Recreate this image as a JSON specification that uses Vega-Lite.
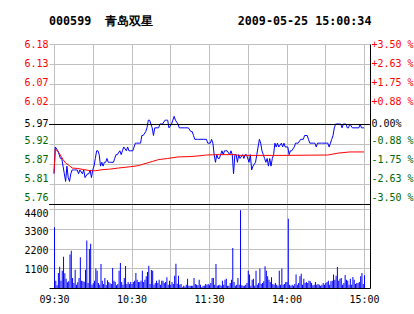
{
  "$schema": "https://vega.github.io/schema/vega-lite/v6.json",
  "width": 321,
  "height": 244,
  "autosize": {"type": "none"},
  "padding": {"left": 49, "top": 44, "right": 44, "bottom": 26},
  "background": "#ffffff",
  "title": {
    "text": "000599\u00a0\u00a0青岛双星\u00a0\u00a0\u00a0\u00a0\u00a0\u00a0\u00a0\u00a0\u00a0\u00a0\u00a0\u00a02009-05-25\u00a015:00:34",
    "anchor": "start",
    "frame": "group",
    "font": "DejaVu Sans Mono",
    "fontSize": 11.7,
    "fontWeight": "bold",
    "color": "#000000",
    "baseline": "alphabetic",
    "offset": 2
  },
  "config": {
    "view": {"stroke": null},
    "axis": {
      "labelFont": "DejaVu Sans Mono",
      "labelFontSize": 10,
      "labelColor": "#000000",
      "gridColor": "#c0c0c0",
      "gridOpacity": 1,
      "ticks": false,
      "domain": false,
      "title": null,
      "labelOverlap": false,
      "labelFlush": false
    }
  },
  "datasets": {
    "trade": [
      {"minute":0,"price":5.84},{"minute":1,"price":5.91},{"minute":3,"price":5.90},{"minute":4,"price":5.89},{"minute":5,"price":5.88},{"minute":6,"price":5.88},{"minute":7,"price":5.86},{"minute":8,"price":5.84},{"minute":9,"price":5.82},{"minute":10,"price":5.86},{"minute":11,"price":5.83},{"minute":12,"price":5.82},{"minute":13,"price":5.84},{"minute":14,"price":5.85},{"minute":15,"price":5.85},{"minute":16,"price":5.85},{"minute":17,"price":5.85},{"minute":18,"price":5.85},{"minute":19,"price":5.84},{"minute":20,"price":5.85},{"minute":22,"price":5.84},{"minute":23,"price":5.85},{"minute":24,"price":5.83},{"minute":26,"price":5.84},{"minute":27,"price":5.84},{"minute":28,"price":5.85},{"minute":29,"price":5.83},{"minute":30,"price":5.85},{"minute":31,"price":5.86},{"minute":32,"price":5.88},{"minute":33,"price":5.90},{"minute":34,"price":5.90},{"minute":35,"price":5.89},{"minute":36,"price":5.86},{"minute":37,"price":5.87},{"minute":38,"price":5.86},{"minute":39,"price":5.87},{"minute":40,"price":5.87},{"minute":41,"price":5.88},{"minute":42,"price":5.87},{"minute":43,"price":5.87},{"minute":44,"price":5.87},{"minute":46,"price":5.87},{"minute":47,"price":5.88},{"minute":48,"price":5.89},{"minute":49,"price":5.89},{"minute":51,"price":5.90},{"minute":52,"price":5.89},{"minute":53,"price":5.90},{"minute":54,"price":5.91},{"minute":56,"price":5.90},{"minute":57,"price":5.91},{"minute":58,"price":5.90},{"minute":59,"price":5.90},{"minute":61,"price":5.90},{"minute":62,"price":5.91},{"minute":63,"price":5.92},{"minute":64,"price":5.92},{"minute":66,"price":5.92},{"minute":67,"price":5.92},{"minute":68,"price":5.94},{"minute":69,"price":5.94},{"minute":71,"price":5.95},{"minute":72,"price":5.96},{"minute":73,"price":5.98},{"minute":74,"price":5.98},{"minute":75,"price":5.97},{"minute":76,"price":5.96},{"minute":77,"price":5.94},{"minute":78,"price":5.96},{"minute":79,"price":5.96},{"minute":81,"price":5.96},{"minute":82,"price":5.97},{"minute":83,"price":5.97},{"minute":84,"price":5.97},{"minute":86,"price":5.98},{"minute":87,"price":5.98},{"minute":88,"price":5.98},{"minute":89,"price":5.96},{"minute":91,"price":5.97},{"minute":92,"price":5.98},{"minute":93,"price":5.99},{"minute":94,"price":5.98},{"minute":96,"price":5.97},{"minute":97,"price":5.96},{"minute":98,"price":5.96},{"minute":101,"price":5.96},{"minute":103,"price":5.96},{"minute":104,"price":5.96},{"minute":106,"price":5.95},{"minute":107,"price":5.95},{"minute":108,"price":5.94},{"minute":109,"price":5.93},{"minute":111,"price":5.93},{"minute":112,"price":5.93},{"minute":113,"price":5.93},{"minute":116,"price":5.93},{"minute":118,"price":5.93},{"minute":119,"price":5.92},{"minute":121,"price":5.92},{"minute":122,"price":5.93},{"minute":123,"price":5.92},{"minute":124,"price":5.89},{"minute":125,"price":5.87},{"minute":126,"price":5.89},{"minute":127,"price":5.88},{"minute":128,"price":5.88},{"minute":129,"price":5.89},{"minute":130,"price":5.90},{"minute":131,"price":5.89},{"minute":132,"price":5.90},{"minute":133,"price":5.90},{"minute":134,"price":5.90},{"minute":136,"price":5.89},{"minute":137,"price":5.90},{"minute":138,"price":5.89},{"minute":139,"price":5.84},{"minute":140,"price":5.89},{"minute":141,"price":5.89},{"minute":142,"price":5.87},{"minute":143,"price":5.89},{"minute":144,"price":5.88},{"minute":146,"price":5.89},{"minute":147,"price":5.88},{"minute":148,"price":5.89},{"minute":149,"price":5.89},{"minute":151,"price":5.87},{"minute":152,"price":5.89},{"minute":153,"price":5.85},{"minute":154,"price":5.86},{"minute":156,"price":5.87},{"minute":157,"price":5.89},{"minute":158,"price":5.91},{"minute":159,"price":5.93},{"minute":160,"price":5.92},{"minute":161,"price":5.90},{"minute":162,"price":5.89},{"minute":163,"price":5.88},{"minute":164,"price":5.87},{"minute":165,"price":5.88},{"minute":166,"price":5.86},{"minute":167,"price":5.88},{"minute":168,"price":5.86},{"minute":169,"price":5.88},{"minute":170,"price":5.89},{"minute":171,"price":5.92},{"minute":172,"price":5.91},{"minute":173,"price":5.92},{"minute":174,"price":5.91},{"minute":176,"price":5.92},{"minute":177,"price":5.91},{"minute":178,"price":5.92},{"minute":179,"price":5.91},{"minute":181,"price":5.91},{"minute":182,"price":5.89},{"minute":183,"price":5.90},{"minute":184,"price":5.90},{"minute":186,"price":5.91},{"minute":187,"price":5.92},{"minute":188,"price":5.92},{"minute":189,"price":5.92},{"minute":191,"price":5.93},{"minute":192,"price":5.93},{"minute":193,"price":5.93},{"minute":194,"price":5.94},{"minute":196,"price":5.94},{"minute":197,"price":5.93},{"minute":198,"price":5.92},{"minute":199,"price":5.92},{"minute":201,"price":5.92},{"minute":202,"price":5.92},{"minute":203,"price":5.91},{"minute":204,"price":5.92},{"minute":206,"price":5.92},{"minute":207,"price":5.92},{"minute":208,"price":5.92},{"minute":209,"price":5.92},{"minute":211,"price":5.92},{"minute":212,"price":5.92},{"minute":213,"price":5.91},{"minute":214,"price":5.92},{"minute":215,"price":5.93},{"minute":216,"price":5.94},{"minute":217,"price":5.96},{"minute":218,"price":5.97},{"minute":219,"price":5.97},{"minute":221,"price":5.97},{"minute":222,"price":5.97},{"minute":223,"price":5.96},{"minute":224,"price":5.97},{"minute":226,"price":5.97},{"minute":227,"price":5.96},{"minute":228,"price":5.96},{"minute":229,"price":5.97},{"minute":231,"price":5.96},{"minute":233,"price":5.96},{"minute":236,"price":5.96},{"minute":237,"price":5.97},{"minute":238,"price":5.96},{"minute":239,"price":5.96},{"minute":240,"price":5.96}
    ],
    "average": [
      {"minute":0,"avg":5.843},{"minute":1,"avg":5.905},{"minute":4,"avg":5.894},{"minute":7,"avg":5.877},{"minute":9,"avg":5.868},{"minute":12,"avg":5.861},{"minute":14,"avg":5.855},{"minute":18,"avg":5.854},{"minute":23,"avg":5.851},{"minute":28,"avg":5.848},{"minute":32,"avg":5.848},{"minute":38,"avg":5.851},{"minute":43,"avg":5.852},{"minute":50,"avg":5.855},{"minute":58,"avg":5.858},{"minute":65,"avg":5.861},{"minute":72,"avg":5.868},{"minute":76,"avg":5.872},{"minute":81,"avg":5.877},{"minute":88,"avg":5.880},{"minute":96,"avg":5.884},{"minute":106,"avg":5.885},{"minute":113,"avg":5.887},{"minute":118,"avg":5.889},{"minute":128,"avg":5.890},{"minute":140,"avg":5.890},{"minute":143,"avg":5.888},{"minute":178,"avg":5.888},{"minute":212,"avg":5.889},{"minute":220,"avg":5.894},{"minute":229,"avg":5.897},{"minute":240,"avg":5.897}
    ],
    "volume": [
      {"minute":0,"vol":3380},{"minute":1,"vol":410},{"minute":2,"vol":150},{"minute":3,"vol":835},{"minute":4,"vol":1190},{"minute":5,"vol":410},{"minute":6,"vol":965},{"minute":7,"vol":1745},{"minute":8,"vol":815},{"minute":9,"vol":520},{"minute":10,"vol":315},{"minute":11,"vol":370},{"minute":12,"vol":1860},{"minute":13,"vol":2080},{"minute":14,"vol":557},{"minute":15,"vol":280},{"minute":16,"vol":1020},{"minute":17,"vol":185},{"minute":18,"vol":315},{"minute":19,"vol":557},{"minute":20,"vol":1710},{"minute":21,"vol":410},{"minute":22,"vol":370},{"minute":23,"vol":350},{"minute":24,"vol":1020},{"minute":25,"vol":2640},{"minute":26,"vol":280},{"minute":27,"vol":2170},{"minute":28,"vol":2470},{"minute":29,"vol":185},{"minute":30,"vol":260},{"minute":31,"vol":410},{"minute":32,"vol":1080},{"minute":33,"vol":965},{"minute":34,"vol":280},{"minute":35,"vol":185},{"minute":36,"vol":1340},{"minute":37,"vol":410},{"minute":38,"vol":220},{"minute":39,"vol":557},{"minute":40,"vol":170},{"minute":41,"vol":430},{"minute":42,"vol":335},{"minute":43,"vol":260},{"minute":44,"vol":220},{"minute":45,"vol":1115},{"minute":46,"vol":410},{"minute":47,"vol":335},{"minute":48,"vol":150},{"minute":49,"vol":220},{"minute":50,"vol":965},{"minute":51,"vol":1390},{"minute":52,"vol":335},{"minute":53,"vol":185},{"minute":54,"vol":557},{"minute":55,"vol":1225},{"minute":56,"vol":220},{"minute":57,"vol":335},{"minute":58,"vol":220},{"minute":59,"vol":335},{"minute":60,"vol":220},
      {"minute":61,"vol":335},{"minute":62,"vol":410},{"minute":63,"vol":835},{"minute":64,"vol":465},{"minute":65,"vol":335},{"minute":66,"vol":335},{"minute":67,"vol":410},{"minute":68,"vol":965},{"minute":69,"vol":335},{"minute":70,"vol":465},{"minute":71,"vol":650},{"minute":72,"vol":890},{"minute":73,"vol":1245},{"minute":74,"vol":220},{"minute":75,"vol":1000},{"minute":76,"vol":965},{"minute":77,"vol":185},{"minute":78,"vol":280},{"minute":79,"vol":410},{"minute":80,"vol":280},{"minute":81,"vol":465},{"minute":82,"vol":185},{"minute":83,"vol":410},{"minute":84,"vol":410},{"minute":85,"vol":280},{"minute":86,"vol":335},{"minute":87,"vol":595},{"minute":88,"vol":185},{"minute":89,"vol":410},{"minute":90,"vol":185},{"minute":91,"vol":335},{"minute":92,"vol":220},{"minute":93,"vol":687},{"minute":94,"vol":1355},{"minute":95,"vol":240},{"minute":96,"vol":687},{"minute":97,"vol":185},{"minute":98,"vol":220},{"minute":99,"vol":40},{"minute":100,"vol":130},{"minute":101,"vol":90},{"minute":102,"vol":185},{"minute":103,"vol":520},{"minute":104,"vol":130},{"minute":105,"vol":130},{"minute":106,"vol":130},{"minute":107,"vol":130},{"minute":108,"vol":557},{"minute":109,"vol":220},{"minute":110,"vol":185},{"minute":111,"vol":150},{"minute":112,"vol":465},{"minute":113,"vol":185},{"minute":114,"vol":40},{"minute":115,"vol":130},{"minute":116,"vol":130},{"minute":117,"vol":220},{"minute":118,"vol":185},{"minute":119,"vol":220},{"minute":120,"vol":150},
      {"minute":121,"vol":280},{"minute":122,"vol":557},{"minute":123,"vol":557},{"minute":124,"vol":185},{"minute":125,"vol":1340},{"minute":126,"vol":130},{"minute":127,"vol":150},{"minute":128,"vol":185},{"minute":129,"vol":130},{"minute":130,"vol":410},{"minute":131,"vol":185},{"minute":132,"vol":465},{"minute":133,"vol":520},{"minute":134,"vol":130},{"minute":135,"vol":130},{"minute":136,"vol":280},{"minute":137,"vol":465},{"minute":138,"vol":2230},{"minute":139,"vol":335},{"minute":140,"vol":130},{"minute":141,"vol":185},{"minute":142,"vol":557},{"minute":143,"vol":185},{"minute":144,"vol":4330},{"minute":145,"vol":150},{"minute":146,"vol":130},{"minute":147,"vol":130},{"minute":148,"vol":185},{"minute":149,"vol":280},{"minute":150,"vol":965},{"minute":151,"vol":745},{"minute":152,"vol":130},{"minute":153,"vol":465},{"minute":154,"vol":520},{"minute":155,"vol":130},{"minute":156,"vol":965},{"minute":157,"vol":185},{"minute":158,"vol":280},{"minute":159,"vol":1080},{"minute":160,"vol":220},{"minute":161,"vol":280},{"minute":162,"vol":370},{"minute":163,"vol":1210},{"minute":164,"vol":965},{"minute":165,"vol":650},{"minute":166,"vol":465},{"minute":167,"vol":335},{"minute":168,"vol":595},{"minute":169,"vol":220},{"minute":170,"vol":185},{"minute":171,"vol":280},{"minute":172,"vol":185},{"minute":173,"vol":130},{"minute":174,"vol":965},{"minute":175,"vol":185},{"minute":176,"vol":1080},{"minute":177,"vol":185},{"minute":178,"vol":220},{"minute":179,"vol":335},
      {"minute":180,"vol":335},{"minute":181,"vol":3860},{"minute":182,"vol":185},{"minute":183,"vol":130},{"minute":184,"vol":185},{"minute":185,"vol":130},{"minute":186,"vol":220},{"minute":187,"vol":745},{"minute":188,"vol":185},{"minute":189,"vol":280},{"minute":190,"vol":650},{"minute":191,"vol":800},{"minute":192,"vol":185},{"minute":193,"vol":520},{"minute":194,"vol":280},{"minute":195,"vol":335},{"minute":196,"vol":280},{"minute":197,"vol":410},{"minute":198,"vol":370},{"minute":199,"vol":280},{"minute":200,"vol":150},{"minute":201,"vol":185},{"minute":202,"vol":335},{"minute":203,"vol":185},{"minute":204,"vol":220},{"minute":205,"vol":185},{"minute":206,"vol":130},{"minute":207,"vol":185},{"minute":208,"vol":280},{"minute":209,"vol":185},{"minute":210,"vol":280},{"minute":211,"vol":335},{"minute":212,"vol":410},{"minute":213,"vol":185},{"minute":214,"vol":370},{"minute":215,"vol":410},{"minute":216,"vol":745},{"minute":217,"vol":465},{"minute":218,"vol":687},{"minute":219,"vol":1170},{"minute":220,"vol":410},{"minute":221,"vol":520},{"minute":222,"vol":557},{"minute":223,"vol":185},{"minute":224,"vol":280},{"minute":225,"vol":725},{"minute":226,"vol":465},{"minute":227,"vol":410},{"minute":228,"vol":185},{"minute":229,"vol":520},{"minute":230,"vol":185},{"minute":231,"vol":612},{"minute":232,"vol":465},{"minute":233,"vol":220},{"minute":234,"vol":280},{"minute":235,"vol":280},{"minute":236,"vol":335},{"minute":237,"vol":650},{"minute":238,"vol":835},{"minute":239,"vol":220},{"minute":240,"vol":705}
    ],
    "refs": [{"level": 5.97}, {"level": 5.76105}]
  },
  "layer": [
    {
      "data": {"name": "volume"},
      "mark": {"type": "bar", "orient": "vertical", "color": "#0000ff", "size": 1, "xOffset": 0.5},
      "encoding": {
        "x": {
          "field": "minute", "type": "quantitative",
          "scale": {"domain": [0, 240.75], "nice": false, "zero": false},
          "axis": {
            "values": [0, 30, 60, 90, 120, 150, 180, 210, 240],
            "grid": true,
            "domain": true,
            "domainColor": "#000000",
            "labelPadding": 6,
            "labelOverlap": false,
            "labelFlush": false,
            "labelExpr": "datum.value==0?'09:30':datum.value==60?'10:30':datum.value==120?'11:30':datum.value==180?'14:00':datum.value==240?'15:00':''"
          }
        },
        "y": {
          "field": "vol", "type": "quantitative",
          "scale": {"domain": [0, 13590], "nice": false},
          "axis": {
            "orient": "left",
            "values": [1100, 2200, 3300, 4400],
            "grid": true,
            "labelPadding": 1,
            "labelOverlap": false,
            "labelExpr": "format(datum.value, 'd')",
            "labelOffset": {"condition": [{"test": "datum.value > 4000", "value": 4}, {"test": "datum.value > 3000", "value": 3}, {"test": "datum.value > 2000", "value": 2}], "value": 1.5}
          }
        }
      }
    },
    {
      "layer": [
        {
          "data": {"name": "trade"},
          "mark": {"type": "line", "color": "#0000ff", "strokeWidth": 1},
          "encoding": {
            "x": {
              "field": "minute", "type": "quantitative",
              "scale": {"domain": [0, 240.75], "nice": false, "zero": false},
              "axis": {
                "values": [0, 30, 60, 90, 120, 150, 180, 210, 240],
                "grid": true,
                "domain": true,
                "domainColor": "#000000",
                "labelPadding": 6,
                "labelOverlap": false,
                "labelFlush": false,
                "labelExpr": "datum.value==0?'09:30':datum.value==60?'10:30':datum.value==120?'11:30':datum.value==180?'14:00':datum.value==240?'15:00':''"
              }
            },
            "y": {
              "field": "price", "type": "quantitative",
              "scale": {"domain": [5.541652, 6.17895], "nice": false, "zero": false},
              "axis": {
                "orient": "left",
                "values": [5.76105, 5.8132875, 5.865525, 5.9177625, 5.97, 6.0222375, 6.074475, 6.1267125, 6.17895],
                "grid": true,
                "labelPadding": 1,
                "labelOverlap": false,
                "labelExpr": "format(datum.value, '.2f')",
                "labelColor": {"condition": [{"test": "datum.value > 5.975", "value": "#ff0000"}, {"test": "datum.value < 5.965", "value": "#006600"}], "value": "#000000"},
                "labelOffset": {"condition": [{"test": "abs(datum.value-6.0745)<0.001", "value": -1}, {"test": "abs(datum.value-6.0222)<0.001", "value": -2}, {"test": "abs(datum.value-5.9178)<0.001", "value": -3}, {"test": "abs(datum.value-5.8655)<0.001", "value": -4}, {"test": "abs(datum.value-5.8133)<0.001", "value": -5}, {"test": "abs(datum.value-5.7611)<0.001", "value": -6}], "value": 0}
              }
            }
          }
        },
        {
          "data": {"name": "average"},
          "mark": {"type": "line", "color": "#ff0000", "strokeWidth": 1},
          "encoding": {
            "x": {
              "field": "minute", "type": "quantitative",
              "scale": {"domain": [0, 240.75], "nice": false, "zero": false},
              "axis": {
                "values": [0, 30, 60, 90, 120, 150, 180, 210, 240],
                "grid": true,
                "domain": true,
                "domainColor": "#000000",
                "labelPadding": 6,
                "labelOverlap": false,
                "labelFlush": false,
                "labelExpr": "datum.value==0?'09:30':datum.value==60?'10:30':datum.value==120?'11:30':datum.value==180?'14:00':datum.value==240?'15:00':''"
              }
            },
            "y": {
              "field": "avg", "type": "quantitative",
              "scale": {"domain": [5.541652, 6.17895], "nice": false, "zero": false},
              "axis": {
                "orient": "left",
                "values": [5.76105, 5.8132875, 5.865525, 5.9177625, 5.97, 6.0222375, 6.074475, 6.1267125, 6.17895],
                "grid": true,
                "labelPadding": 1,
                "labelOverlap": false,
                "labelExpr": "format(datum.value, '.2f')",
                "labelColor": {"condition": [{"test": "datum.value > 5.975", "value": "#ff0000"}, {"test": "datum.value < 5.965", "value": "#006600"}], "value": "#000000"},
                "labelOffset": {"condition": [{"test": "abs(datum.value-6.0745)<0.001", "value": -1}, {"test": "abs(datum.value-6.0222)<0.001", "value": -2}, {"test": "abs(datum.value-5.9178)<0.001", "value": -3}, {"test": "abs(datum.value-5.8655)<0.001", "value": -4}, {"test": "abs(datum.value-5.8133)<0.001", "value": -5}, {"test": "abs(datum.value-5.7611)<0.001", "value": -6}], "value": 0}
              }
            }
          }
        }
      ]
    },
    {
      "data": {"name": "refs"},
      "mark": {"type": "rule", "color": "#000000", "strokeWidth": 1, "yOffset": 0.5},
      "encoding": {
        "y": {
          "field": "level", "type": "quantitative",
          "scale": {"domain": [5.541652, 6.17895], "nice": false, "zero": false},
          "axis": {
            "orient": "right",
            "values": [5.76105, 5.8132875, 5.865525, 5.9177625, 5.97, 6.0222375, 6.074475, 6.1267125, 6.17895],
            "grid": false,
            "domain": true,
            "domainColor": "#000000",
            "labelPadding": 1,
            "labelOverlap": false,
            "labelExpr": "(round((datum.value/5.97-1)/0.00875)>0?'+':(round((datum.value/5.97-1)/0.00875)<0?'-':''))+format(abs(round((datum.value/5.97-1)/0.00875))*0.875,'.2f')+(round((datum.value/5.97-1)/0.00875)==0?'%':' %')",
            "labelColor": {"condition": [{"test": "datum.value > 5.975", "value": "#ff0000"}, {"test": "datum.value < 5.965", "value": "#006600"}], "value": "#000000"},
            "labelOffset": {"condition": [{"test": "abs(datum.value-6.0745)<0.001", "value": -1}, {"test": "abs(datum.value-6.0222)<0.001", "value": -2}, {"test": "abs(datum.value-5.9178)<0.001", "value": -3}, {"test": "abs(datum.value-5.8655)<0.001", "value": -4}, {"test": "abs(datum.value-5.8133)<0.001", "value": -5}, {"test": "abs(datum.value-5.7611)<0.001", "value": -6}], "value": 0}
          }
        }
      }
    }
  ],
  "resolve": {"scale": {"y": "independent"}, "axis": {"y": "independent"}}
}
